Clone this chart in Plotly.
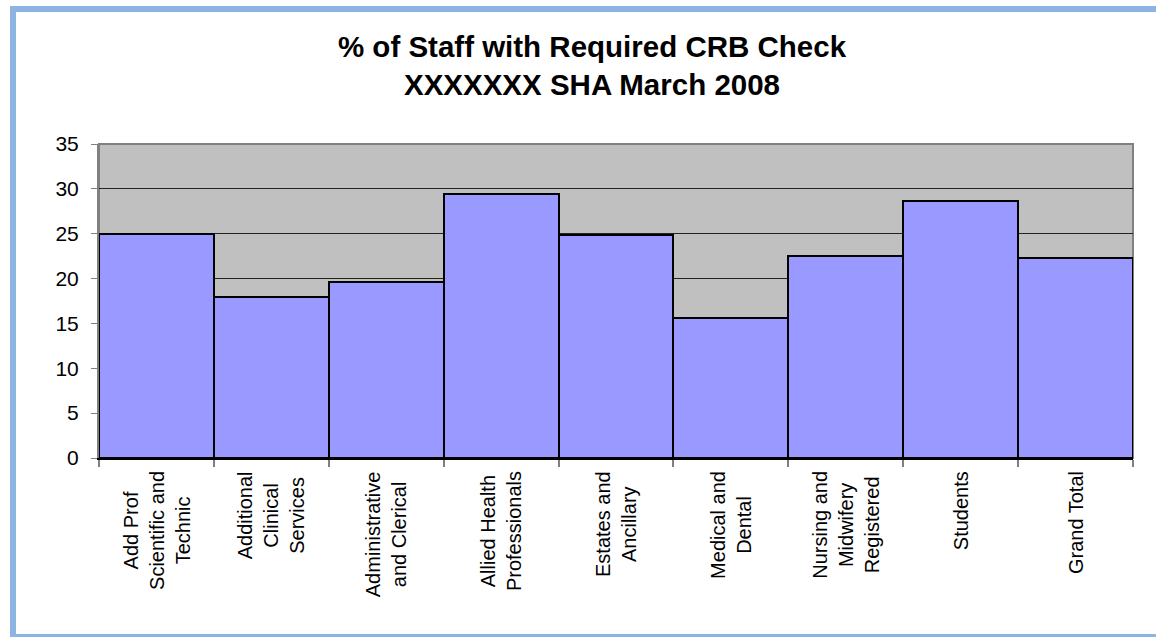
import plotly.graph_objects as go

categories = [
    "Add Prof<br>Scientific and<br>Technic",
    "Additional<br>Clinical<br>Services",
    "Administrative<br>and Clerical",
    "Allied Health<br>Professionals",
    "Estates and<br>Ancillary",
    "Medical and<br>Dental",
    "Nursing and<br>Midwifery<br>Registered",
    "Students",
    "Grand Total",
]
values = [25.0, 18.0, 19.6, 29.4, 24.9, 15.6, 22.5, 28.6, 22.3]
y_ticks = [0, 5, 10, 15, 20, 25, 30, 35]

title_lines = ["% of Staff with Required CRB Check", "XXXXXXX SHA March 2008"]

W, H = 1156, 637
# plot area pixel edges
L, R, T, B = 99, 1133, 144, 458


def px(x):
    return (x - L) / (R - L)


def py(y):
    return (B - y) / (B - T)


FONT = "Arial, Liberation Sans, sans-serif"

fig = go.Figure()
fig.add_trace(
    go.Bar(
        x=list(range(len(categories))),
        y=values,
        marker=dict(color="#9999FF", line=dict(color="#000000", width=2)),
        width=1.0,
        hoverinfo="y",
    )
)

# category labels (rotated, centred multi-line)
for i, c in enumerate(categories):
    fig.add_annotation(
        x=i, xref="x", y=py(469), yref="paper",
        text=c, textangle=-90, showarrow=False,
        xanchor="center", yanchor="top", align="center",
        font=dict(family=FONT, size=20, color="#000000"),
    )

border = "#8DB3E2"
shapes = [
    dict(type="rect", xref="paper", yref="paper", x0=0, x1=1, y0=0, y1=1,
         line=dict(color="#808080", width=2), layer="below"),
    dict(type="rect", xref="paper", yref="paper", x0=px(10), x1=px(16), y0=py(6), y1=py(637),
         fillcolor=border, line=dict(width=0)),
    dict(type="rect", xref="paper", yref="paper", x0=px(10), x1=px(1156), y0=py(6), y1=py(12),
         fillcolor=border, line=dict(width=0)),
    dict(type="rect", xref="paper", yref="paper", x0=px(10), x1=px(1156), y0=py(634), y1=py(637),
         fillcolor=border, line=dict(width=0)),
]

fig.update_layout(
    width=W, height=H,
    margin=dict(l=L, r=W - R, t=T, b=H - B, pad=0),
    paper_bgcolor="#FFFFFF",
    plot_bgcolor="#C0C0C0",
    bargap=0,
    showlegend=False,
    shapes=shapes,
    title=dict(
        text="<b>" + title_lines[0] + "<br>" + title_lines[1] + "</b>",
        x=px(592), xref="paper", xanchor="center",
        y=1 - 57 / H, yref="container", yanchor="middle",
        font=dict(family=FONT, size=29.5, color="#000000"),
    ),
    xaxis=dict(
        range=[-0.5, len(categories) - 0.5],
        tickmode="array",
        tickvals=[i - 0.5 for i in range(len(categories) + 1)],
        showticklabels=False,
        ticks="outside", ticklen=7, tickwidth=2, tickcolor="#808080",
        showline=True, linecolor="#000000", linewidth=2,
        showgrid=False, zeroline=False, fixedrange=True,
    ),
    yaxis=dict(
        range=[0, 35],
        tickmode="array", tickvals=y_ticks,
        ticks="outside", ticklen=6, tickwidth=1, tickcolor="#808080",
        ticklabelstandoff=8,
        tickfont=dict(family=FONT, size=21, color="#000000"),
        showline=True, linecolor="#808080", linewidth=2,
        showgrid=True, gridcolor="#222222", gridwidth=1,
        zeroline=False, fixedrange=True,
    ),
)

fig.write_html(
    "out.html",
    config={"displayModeBar": False},
    post_script=(
        "document.body.style.margin='0';"
        "document.body.style.overflow='hidden';"
        "document.documentElement.style.overflow='hidden';"
    ),
)
